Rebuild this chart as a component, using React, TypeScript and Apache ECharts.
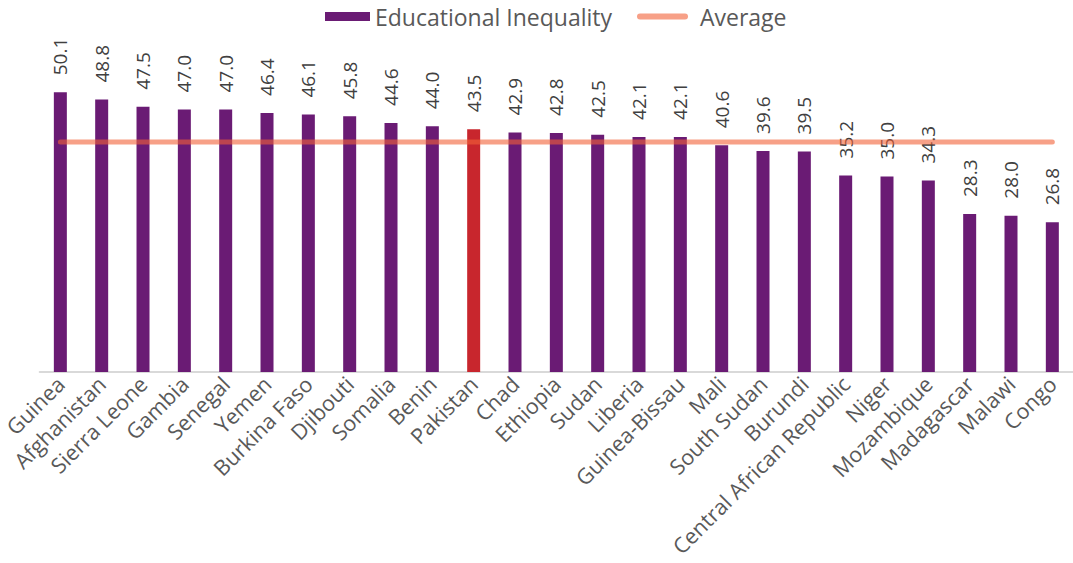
import React, { useEffect, useRef } from "react";
import * as echarts from "echarts";

const categories = [
  "Guinea", "Afghanistan", "Sierra Leone", "Gambia", "Senegal", "Yemen",
  "Burkina Faso", "Djibouti", "Somalia", "Benin", "Pakistan", "Chad",
  "Ethiopia", "Sudan", "Liberia", "Guinea-Bissau", "Mali", "South Sudan",
  "Burundi", "Central African Republic", "Niger", "Mozambique", "Madagascar",
  "Malawi", "Congo",
];

const inequalityValues = [
  50.1, 48.8, 47.5, 47.0, 47.0, 46.4, 46.1, 45.8, 44.6, 44.0, 43.5, 42.9,
  42.8, 42.5, 42.1, 42.1, 40.6, 39.6, 39.5, 35.2, 35.0, 34.3, 28.3, 28.0, 26.8,
];

const averageValue = 41.2;
const highlightCategory = "Pakistan";

const PURPLE = "#6a1b74";
const RED = "#c8262d";
const LINE = "rgba(242,97,55,0.6)";
const FONT = "'Open Sans', 'Noto Sans', sans-serif";

export default function App() {
  const ref = useRef<HTMLDivElement>(null);

  useEffect(() => {
    document.body.style.margin = "0";
    if (!ref.current) return;
    const chart = echarts.init(ref.current, null, { renderer: "svg" });
    chart.setOption({
      animation: false,
      textStyle: { fontFamily: FONT },
      legend: {
        top: 5,
        left: 325,
        padding: 0,
        itemGap: 25,
        itemWidth: 45,
        itemHeight: 9,
        textStyle: { fontSize: 23, color: "#595959", fontFamily: FONT },
        data: [
          { name: "Educational Inequality", icon: "rect" },
          {
            name: "Average",
            lineStyle: { width: 6, cap: "round", color: LINE },
            itemStyle: { opacity: 0 },
            textStyle: { fontSize: 23, color: "#595959", padding: [0, 0, 0, 10] },
          },
        ],
      },
      grid: { left: 39, width: 1037, top: 37, bottom: 191, containLabel: false },
      xAxis: {
        type: "category",
        data: categories,
        axisTick: { show: false },
        axisLine: { lineStyle: { color: "#d9d9d9", width: 2 } },
        axisLabel: {
          interval: 0,
          rotate: 45,
          fontSize: 21.5,
          color: "#595959",
          fontFamily: FONT,
          margin: 8,
        },
      },
      yAxis: {
        type: "value",
        min: 0,
        max: 60,
        show: false,
        splitLine: { show: false },
      },
      series: [
        {
          name: "Educational Inequality",
          type: "bar",
          barWidth: 13,
          itemStyle: { color: PURPLE },
          data: inequalityValues.map((v, i) => ({
            value: v,
            itemStyle: { color: categories[i] === highlightCategory ? RED : PURPLE },
          })),
          label: {
            show: true,
            position: "top",
            rotate: 90,
            align: "left",
            verticalAlign: "middle",
            distance: 17,
            fontSize: 19,
            color: "#404040",
            fontFamily: FONT,
            formatter: (p: any) => Number(p.value).toFixed(1),
          },
        },
        {
          name: "Average",
          type: "line",
          data: categories.map(() => averageValue),
          symbol: "none",
          z: 5,
          lineStyle: { color: LINE, width: 5, cap: "round" },
          itemStyle: { color: LINE },
        },
      ],
    });
    return () => chart.dispose();
  }, []);

  return <div ref={ref} style={{ width: 1073, height: 563 }} />;
}
